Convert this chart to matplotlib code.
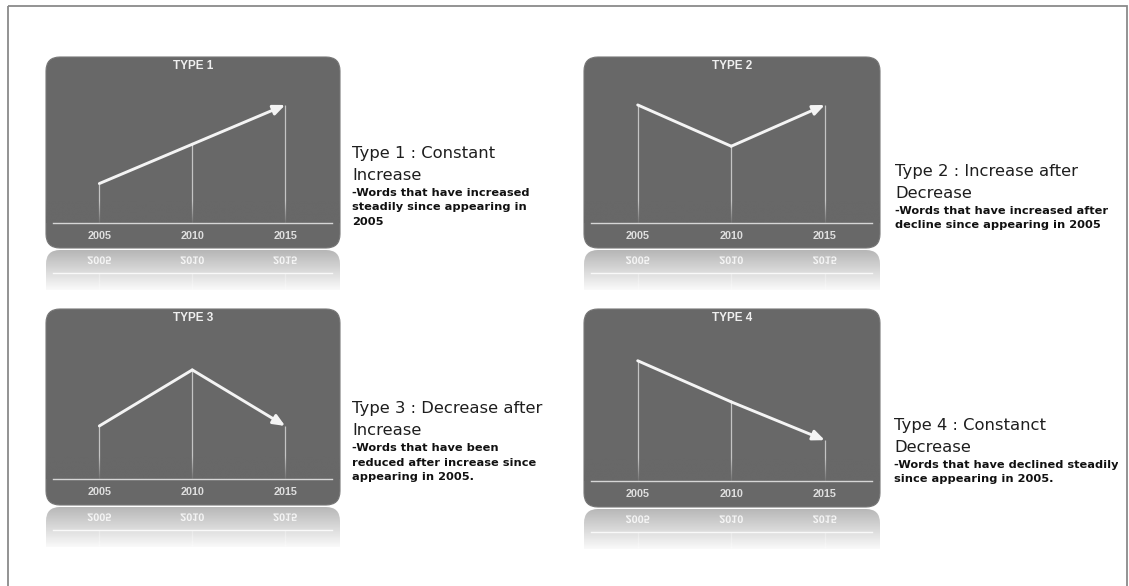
import numpy as np
import matplotlib
matplotlib.use('Agg')
import matplotlib.pyplot as plt
from matplotlib.patches import FancyBboxPatch, Rectangle, PathPatch
from matplotlib.transforms import Affine2D, ScaledTranslation, Bbox, TransformedBbox
from matplotlib.textpath import TextPath
from matplotlib.font_manager import FontProperties

# trend shapes, relative frequency per year
years = [2005, 2010, 2015]
type_titles = ['TYPE 1', 'TYPE 2', 'TYPE 3', 'TYPE 4']
type1 = [1.0, 2.0, 3.0]
type2 = [3.0, 1.95, 3.0]
type3 = [1.32, 2.71, 1.32]
type4 = [2.95, 1.94, 1.0]
series = [type1, type2, type3, type4]

headers = [['Type 1 : Constant', 'Increase'],
           ['Type 2 : Increase after', 'Decrease'],
           ['Type 3 : Decrease after', 'Increase'],
           ['Type 4 : Constanct', 'Decrease']]
notes = [['-Words that have increased', 'steadily since appearing in', '2005'],
         ['-Words that have increased after', 'decline since appearing in 2005'],
         ['-Words that have been', 'reduced after increase since', 'appearing in 2005.'],
         ['-Words that have declined steadily', 'since appearing in 2005.']]

W, H = 1129, 586
PANEL = '#686868'
LINE = '#f4f4f4'
XLIM = (2002.13, 2017.95)
YLIM = (-0.64, 4.22)
PX_PER_UNIT = 39.3

fig = plt.figure(figsize=(W / 100, H / 100), dpi=100)
# pixel coordinates with the origin at the top left
px = Affine2D().scale(1 / W, -1 / H).translate(0, 1) + fig.transFigure

fig.add_artist(Rectangle((8, 6), 1119, 640, transform=px, fill=False,
                         ec='#8a8a8a', lw=1.3))

tick_font = FontProperties(family='Liberation Sans', weight='bold')


def mirrored_label(ax, x, y, s, size, color):
    tp = TextPath((0, 0), s, size=size, prop=tick_font)
    bb = tp.get_extents()
    tr = (Affine2D().translate(-(bb.x0 + bb.x1) / 2, -(bb.y0 + bb.y1) / 2)
          .scale(1 / 72, -1 / 72)
          + ax.figure.dpi_scale_trans
          + ScaledTranslation(x, y, ax.transData))
    ax.add_artist(PathPatch(tp, transform=tr, fc=color, ec='none', zorder=3))


def draw_panel(box, title, vals):
    x0, y0, w, h = box
    ax = fig.add_axes([x0 / W, 1 - (y0 + h) / H, w / W, h / H])
    ax.axis('off')
    ax.add_patch(FancyBboxPatch((x0, y0), w, h, boxstyle='round,pad=0,rounding_size=14',
                                transform=px, fc=PANEL, ec='#777777', lw=0.8,
                                clip_on=False, zorder=0))

    ax.vlines(years, 0, vals, colors='#c4c4c4', lw=0.9, zorder=1)
    # drop lines fade out towards the baseline
    grad = np.zeros((60, 1, 4))
    grad[..., :3] = matplotlib.colors.to_rgb(PANEL)
    grad[:, 0, 3] = np.linspace(0.9, 0.0, 60)
    ax.imshow(grad, extent=(XLIM[0], XLIM[1], 0, 0.55), origin='lower',
              aspect='auto', interpolation='bilinear', zorder=2)

    ax.plot(years[:2], vals[:2], color=LINE, lw=2.1, solid_capstyle='round', zorder=3)
    ax.annotate('', xy=(years[2], vals[2]), xytext=(years[1], vals[1]),
                arrowprops=dict(arrowstyle='-|>,head_length=0.7,head_width=0.3',
                                color=LINE, lw=2.1, shrinkA=0, shrinkB=0,
                                mutation_scale=10),
                zorder=3)

    inset_l, inset_r = 7 / w, 1 - 8 / w
    ax.axhline(0, inset_l, inset_r, color='#d6d6d6', lw=1.0, zorder=4)
    for yr in years:
        ax.text(yr, -0.33, str(yr), ha='center', va='center', fontproperties=tick_font,
                fontsize=7.8, color='#dedede', zorder=5)
    ax.text(0.5, 1 - 9 / h, title, transform=ax.transAxes, ha='center', va='center',
            family='Liberation Sans', weight='bold', fontsize=8.5, color='#efefef', zorder=5)
    ax.set_xlim(*XLIM)
    ax.set_ylim(*YLIM)

    # faded reflection under the panel
    gap, rh = 2, 40
    rax = fig.add_axes([x0 / W, 1 - (y0 + h + gap + rh) / H, w / W, rh / H])
    rax.axis('off')
    rax.add_patch(FancyBboxPatch((x0, y0 + h + gap), w, 200,
                                 boxstyle='round,pad=0,rounding_size=14',
                                 transform=px, fc=PANEL, ec='none', zorder=0))
    rax.axhline(0, inset_l, inset_r, color='#e6e6e6', lw=1.0, zorder=2)
    rax.vlines(years, 0, vals, colors='#c4c4c4', lw=0.9, alpha=0.5, zorder=1)
    for yr in years:
        mirrored_label(rax, yr, -0.33, str(yr), 7.8, '#e4e4e4')
    fade = np.ones((60, 1, 4))
    fade[:, 0, 3] = np.linspace(0.52, 0.97, 60)
    rax.imshow(fade, extent=(0, 1, 0, 1), transform=rax.transAxes, origin='upper',
               aspect='auto', interpolation='bilinear', zorder=5)
    bottom = YLIM[0]
    rax.set_xlim(*XLIM)
    rax.set_ylim(bottom + (gap + rh) / PX_PER_UNIT, bottom + gap / PX_PER_UNIT)


panel_boxes = [(46, 57, 294, 191), (584, 57, 296, 191),
               (46, 309, 294, 196), (584, 309, 296, 198)]
for box, title, vals in zip(panel_boxes, type_titles, series):
    draw_panel(box, title, vals)

# captions to the right of each panel, cut off at the frame
clip = TransformedBbox(Bbox([[0, 0], [1118, H]]), px)
caption_pos = [(352, 158), (895, 176), (352, 413), (894, 430)]
for (cx, cy), head, note in zip(caption_pos, headers, notes):
    for i, line in enumerate(head):
        t = fig.text(cx, cy + 22 * i, line, transform=px, va='baseline', ha='left',
                     family='DejaVu Sans', fontsize=11.8, color='#1e1e1e')
        t.set_clip_box(clip)
    for i, line in enumerate(note):
        t = fig.text(cx, cy + 38 + 14.5 * i, line, transform=px, va='baseline', ha='left',
                     family='DejaVu Sans', weight='bold', fontsize=8.2, color='#111111')
        t.set_clip_box(clip)

fig.savefig('out.png', dpi=100, facecolor='white')
